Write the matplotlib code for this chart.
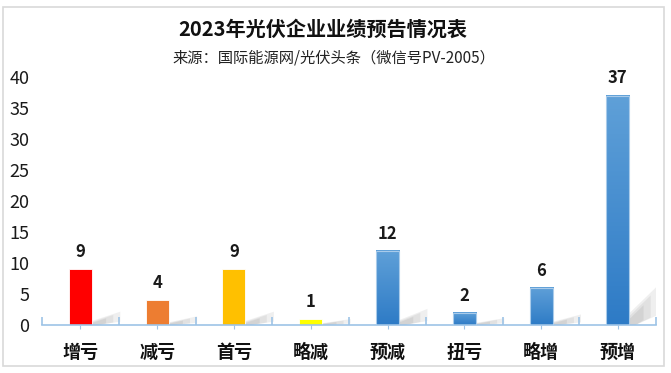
import matplotlib
matplotlib.use("Agg")
import matplotlib.pyplot as plt
import numpy as np
from matplotlib.patches import Rectangle, Polygon
from matplotlib.colors import LinearSegmentedColormap

plt.rcParams['font.family'] = ['Noto Sans CJK SC', 'DejaVu Sans']

categories = ["增亏", "减亏", "首亏", "略减", "预减", "扭亏", "略增", "预增"]
values = [9, 4, 9, 1, 12, 2, 6, 37]
colors = ["#FF0000", "#ED7D31", "#FFC000", "#FFFF00", "#5B9BD5", "#5B9BD5", "#5B9BD5", "#5B9BD5"]
gradient = [False, False, False, False, True, True, True, True]
yticks = [0, 5, 10, 15, 20, 25, 30, 35, 40]
title = "2023年光伏企业业绩预告情况表"
subtitle = "来源：国际能源网/光伏头条（微信号PV-2005）"

fig = plt.figure(figsize=(6.71, 3.73), dpi=100)
fig.patches.append(Rectangle((0.005, 0.018), 0.985, 0.963, transform=fig.transFigure,
                             fill=False, edgecolor="#D9D9D9", linewidth=1.2))
ax = fig.add_axes([0.0626, 0.1287, 0.9154, 0.665])
x = np.arange(len(categories))
w = 0.3
sw = 0.37

blue_cmap = LinearSegmentedColormap.from_list("b", ["#2E7BC6", "#5FA0D8"])
for xi, v, c, g in zip(x, values, colors, gradient):
    xr = xi + w / 2
    h = 0.15 * v + 0.8
    # soft shadow, built in a few translucent layers
    for k, a in zip([1.0, 0.75, 0.5], [0.12, 0.12, 0.14]):
        sh = Polygon([(xr, 0), (xr, 0.3 * h * k), (xr + sw * k, h * k), (xr + sw * k, 0.25 * h * k),
                      (xr + 0.08, 0)], closed=True, facecolor="#808080", alpha=a,
                     edgecolor="none", zorder=1)
        ax.add_patch(sh)
    if g:
        grad = np.linspace(0, 1, 100).reshape(-1, 1)
        ax.imshow(grad, extent=(xi - w / 2, xi + w / 2, 0, v), origin="lower", cmap=blue_cmap,
                  aspect="auto", zorder=2)
        ax.add_patch(Rectangle((xi - w / 2, 0), w, v, fill=False, edgecolor="#A9CBEA",
                               linewidth=0.8, zorder=3))
    else:
        ax.bar(xi, v, width=w, color=c, edgecolor="white", linewidth=0.6, zorder=2)
    ax.text(xi, v + 1.3, str(v), ha="center", va="bottom", fontsize=12, fontweight="bold",
            color="#1a1a1a")
ax.set_xlim(-0.5, len(categories) - 0.5)
ax.set_ylim(0, 40)

for s in ["top", "right", "left"]:
    ax.spines[s].set_visible(False)
ax.spines["bottom"].set_color("#9DC3E6")
ax.spines["bottom"].set_linewidth(1.2)

ax.set_yticks(yticks)
ax.set_yticklabels([str(t) for t in yticks], fontsize=13, color="#1a1a1a")
ax.tick_params(axis="y", length=0, pad=9)

ax.set_xticks(x)
ax.set_xticklabels(categories, fontsize=13, fontweight="bold", color="#111111")
ax.tick_params(axis="x", which="major", length=3, color="#9DC3E6", pad=10, direction="out")
ax.set_xticks(np.arange(-0.5, len(categories)), minor=True)
ax.tick_params(axis="x", which="minor", length=6, width=1.2, color="#9DC3E6", direction="in")

fig.text(0.481, 0.921, title, ha="center", va="center", fontsize=14.5, fontweight="bold", color="#111111")
fig.text(0.497, 0.844, subtitle, ha="center", va="center", fontsize=11, color="#222222")

fig.savefig("out.png", dpi=100)
